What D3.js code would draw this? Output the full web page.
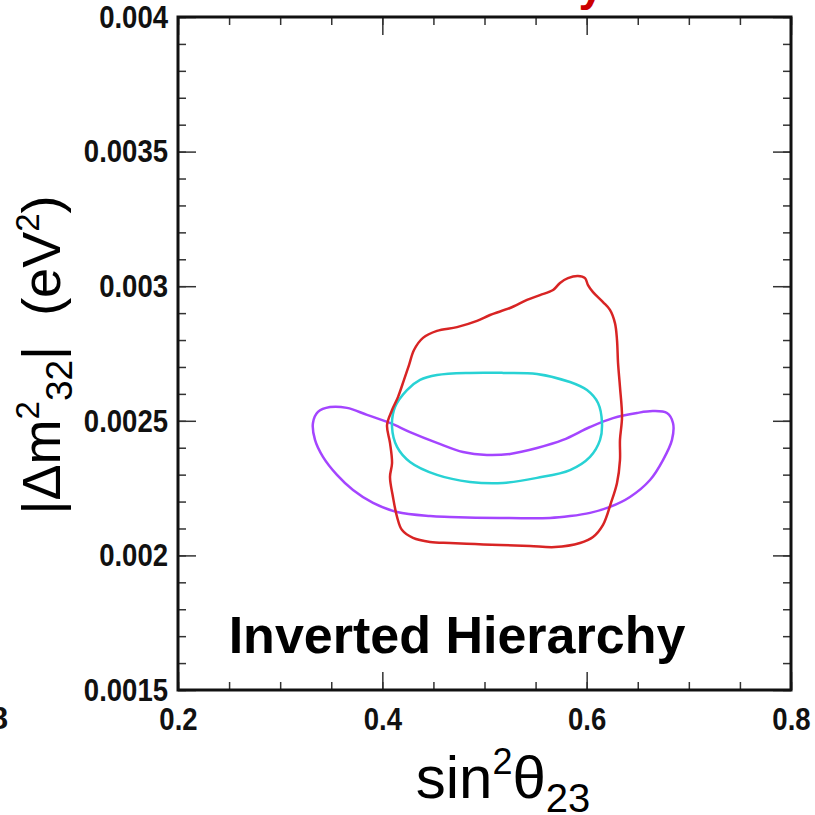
<!DOCTYPE html>
<html>
<head>
<meta charset="utf-8">
<script src="https://cdn.jsdelivr.net/npm/d3@7"></script>
<style>
  body { margin: 0; background: #fff; }
  svg { display: block; font-family: "Liberation Sans", Arial, sans-serif; }
</style>
</head>
<body>
<svg></svg>
<script>
// contour points: [sin^2 theta23, |dm^2_32| (eV^2)]
var redContour = [
  [0.4535,0.002834],[0.4731,0.002848],[0.4927,0.002871],[0.5054,0.002893],[0.5250,0.002919],
  [0.5416,0.002949],[0.5543,0.002967],[0.5671,0.002986],[0.5739,0.003012],[0.5817,0.003030],
  [0.5915,0.003038],[0.5984,0.003030],[0.6013,0.003004],[0.6062,0.002978],[0.6160,0.002941],
  [0.6228,0.002912],[0.6277,0.002863],[0.6297,0.002800],[0.6307,0.002715],[0.6326,0.002626],
  [0.6346,0.002514],[0.6326,0.002429],[0.6326,0.002354],[0.6297,0.002269],[0.6238,0.002195],
  [0.6160,0.002113],[0.6062,0.002068],[0.5935,0.002046],[0.5690,0.002031],[0.5445,0.002035],
  [0.5152,0.002039],[0.4907,0.002042],[0.4662,0.002046],[0.4467,0.002050],[0.4300,0.002065],
  [0.4193,0.002094],[0.4144,0.002143],[0.4104,0.002217],[0.4075,0.002291],[0.4095,0.002343],
  [0.4075,0.002418],[0.4046,0.002484],[0.4095,0.002540],[0.4153,0.002588],[0.4212,0.002652],
  [0.4261,0.002707],[0.4310,0.002763],[0.4398,0.002808]
];
var cyanContour = [
  [0.4369,0.002652],[0.4535,0.002670],[0.4858,0.002678],[0.5181,0.002678],[0.5514,0.002674],
  [0.5837,0.002644],[0.6003,0.002614],[0.6111,0.002566],[0.6150,0.002492],[0.6131,0.002429],
  [0.6033,0.002366],[0.5837,0.002317],[0.5514,0.002288],[0.5181,0.002269],[0.4858,0.002273],
  [0.4535,0.002299],[0.4271,0.002347],[0.4144,0.002403],[0.4095,0.002477],[0.4124,0.002551],
  [0.4241,0.002614]
];
var purpleContour = [
  [0.3370,0.002533],[0.3488,0.002551],[0.3654,0.002548],[0.3850,0.002522],[0.4075,0.002492],
  [0.4271,0.002458],[0.4535,0.002418],[0.4790,0.002384],[0.5024,0.002373],[0.5250,0.002377],
  [0.5514,0.002399],[0.5768,0.002429],[0.6033,0.002477],[0.6258,0.002510],[0.6493,0.002529],
  [0.6649,0.002536],[0.6786,0.002529],[0.6845,0.002492],[0.6835,0.002429],[0.6747,0.002354],
  [0.6620,0.002280],[0.6424,0.002217],[0.6228,0.002180],[0.6033,0.002158],[0.5837,0.002146],
  [0.5641,0.002139],[0.5152,0.002139],[0.4662,0.002143],[0.4467,0.002146],[0.4144,0.002161],
  [0.3909,0.002195],[0.3713,0.002243],[0.3556,0.002299],[0.3419,0.002366],[0.3341,0.002429],
  [0.3321,0.002492]
];
var xMajor = [0.2, 0.4, 0.6, 0.8];
var xMinor = d3.range(0.2, 0.8001, 0.05);
var yMajor = [0.0015, 0.002, 0.0025, 0.003, 0.0035, 0.004];
var yMinor = d3.range(0.0015, 0.0040001, 0.0001);
var yLabels = ["0.0015", "0.002", "0.0025", "0.003", "0.0035", "0.004"];

var W = 815, H = 815;
var plot = {left:178, right:791, top:17, bottom:690};

var svg = d3.select("svg").attr("width", W).attr("height", H);
svg.append("rect").attr("width", W).attr("height", H).attr("fill", "#fff");

var xScale = d3.scaleLinear().domain([0.2, 0.8]).range([plot.left, plot.right]);
var yScale = d3.scaleLinear().domain([0.0015, 0.004]).range([plot.bottom, plot.top]);

// ticks, pointing inward on all four sides
function addAxis(axisFn, scale, vals, size, transform, fmt, pad){
  var g = svg.append("g")
    .attr("transform", transform)
    .call(axisFn(scale).tickValues(vals).tickSize(-size).tickPadding(pad || 3)
      .tickFormat(fmt || function(){return "";}));
  g.select(".domain").remove();
  g.selectAll(".tick line").attr("stroke", "#333").attr("stroke-width", 1.5);
  return g;
}
addAxis(d3.axisBottom, xScale, xMinor, 8, "translate(0," + plot.bottom + ")");
addAxis(d3.axisTop, xScale, xMinor, 8, "translate(0," + plot.top + ")");
addAxis(d3.axisTop, xScale, xMajor, 18, "translate(0," + plot.top + ")");
addAxis(d3.axisLeft, yScale, yMinor, 8, "translate(" + plot.left + ",0)");
addAxis(d3.axisRight, yScale, yMinor, 8, "translate(" + plot.right + ",0)");
addAxis(d3.axisRight, yScale, yMajor, 18, "translate(" + plot.right + ",0)");

var xAx = addAxis(d3.axisBottom, xScale, xMajor, 18, "translate(0," + plot.bottom + ")",
  function(d){return d3.format(".1f")(d);}, 17);
var yAx = addAxis(d3.axisLeft, yScale, yMajor, 18, "translate(" + plot.left + ",0)",
  function(d, i){return yLabels[i];}, 10);
// ROOT-style bold labels: tall and a bit narrow
svg.selectAll(".tick text")
  .attr("font-family", "'Liberation Sans', Arial, sans-serif")
  .attr("font-weight", "bold")
  .attr("font-size", 32)
  .attr("fill", "#111")
  .each(function(){
    var w = this.getComputedTextLength();
    d3.select(this).attr("textLength", w * 0.86).attr("lengthAdjust", "spacingAndGlyphs");
  });

// frame
svg.append("rect")
  .attr("x", plot.left).attr("y", plot.top)
  .attr("width", plot.right - plot.left).attr("height", plot.bottom - plot.top)
  .attr("fill", "none").attr("stroke", "#111").attr("stroke-width", 3);

// contours
var line = d3.line()
  .x(function(d){return xScale(d[0]);})
  .y(function(d){return yScale(d[1]);})
  .curve(d3.curveCatmullRomClosed.alpha(0.5));

var series = [
  {pts: purpleContour, color: "#a445ff"},
  {pts: cyanContour, color: "#28d2d4"},
  {pts: redContour, color: "#d82424"}
];
svg.append("g").selectAll("path")
  .data(series)
  .enter()
  .append("path")
  .attr("d", function(s){return line(s.pts);})
  .attr("fill", "none")
  .attr("stroke", function(s){return s.color;})
  .attr("stroke-width", 2.5);

// label inside the plot
svg.append("text")
  .attr("x", 457).attr("y", 653)
  .attr("text-anchor", "middle")
  .attr("font-weight", "bold")
  .attr("font-size", 52)
  .attr("fill", "#000")
  .text("Inverted Hierarchy");

// x title
var xt = svg.append("text")
  .attr("x", 503).attr("y", 798)
  .attr("text-anchor", "middle")
  .attr("font-size", 60)
  .attr("fill", "#000");
xt.append("tspan").text("sin");
xt.append("tspan").attr("font-size", 36).attr("dy", -24).text("2");
xt.append("tspan").attr("dy", 24).text("\u03b8");
xt.append("tspan").attr("font-size", 40).attr("dy", 14).text("23");

// y title
var yt = svg.append("text")
  .attr("transform", "translate(60,355) rotate(-90)")
  .attr("text-anchor", "middle")
  .attr("font-size", 54)
  .attr("fill", "#000");
yt.append("tspan").text("|\u0394m");
yt.append("tspan").attr("font-size", 33).attr("dy", -21).text("2");
yt.append("tspan").attr("font-size", 37).attr("dy", 33).text("32");
yt.append("tspan").attr("dy", -12).text("|\u00a0\u00a0(eV");
yt.append("tspan").attr("font-size", 33).attr("dy", -21).text("2");
yt.append("tspan").attr("dy", 21).text(")");

// pieces of neighbouring panels cut by the picture edge
svg.append("text")
  .attr("x", 8).attr("y", 729)
  .attr("text-anchor", "end")
  .attr("font-weight", "bold").attr("font-size", 32).attr("fill", "#111")
  .text("0.8");
svg.append("text")
  .attr("x", 604).attr("y", 0)
  .attr("text-anchor", "end")
  .attr("font-weight", "bold").attr("font-size", 46).attr("fill", "#cc0000")
  .text("Sensitivity");
svg.append("text")
  .attr("x", 677).attr("y", 0)
  .attr("font-weight", "bold").attr("font-size", 46).attr("fill", "#cc0000")
  .text("Contours");
</script>
</body>
</html>
